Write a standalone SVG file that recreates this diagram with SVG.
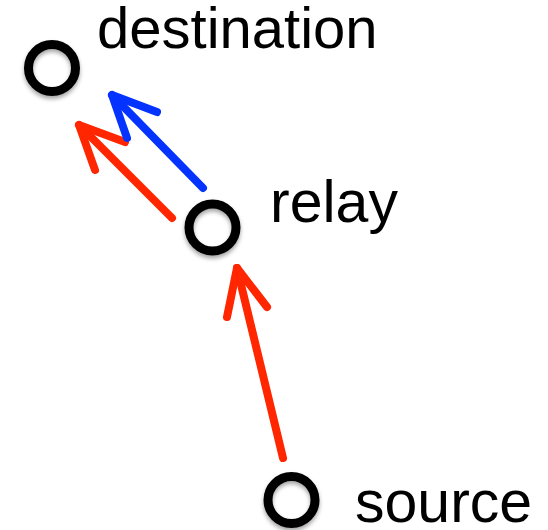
<svg xmlns="http://www.w3.org/2000/svg" width="548" height="530" viewBox="0 0 548 530">
  <defs>
    <filter id="soft-shadow" x="-40%" y="-40%" width="180%" height="180%">
      <feDropShadow dx="0" dy="3" stdDeviation="2" flood-color="#000" flood-opacity="0.35"/>
    </filter>
  </defs>
  <style>
    .node-ring { fill: none; stroke: #000; stroke-width: 9; filter: url(#soft-shadow); }
    .label { font-family: "Liberation Sans", Arial, Helvetica, sans-serif; font-size: 59px; fill: #000; }
    .link { fill: none; stroke-width: 8; stroke-linecap: round; stroke-linejoin: round; }
    .red { stroke: #FF2600; }
    .blue { stroke: #0433FF; }
  </style>
  <rect width="548" height="530" fill="#fff"/>

  <!-- connectors: shaft plus open chevron head at the tip -->
  <g id="connectors">
    <g id="source-to-relay" class="link red">
      <path d="M283,458 L237,268"/>
      <path d="M227,317 L237,268 L267,307"/>
    </g>
    <g id="relay-to-destination-red" class="link red">
      <path d="M172,218 L79,125"/>
      <path d="M95,170 L79,125 L125,142"/>
    </g>
    <g id="relay-to-destination-blue" class="link blue">
      <path d="M203,188 L112,95"/>
      <path d="M127,138 L112,95 L157,112"/>
    </g>
  </g>

  <g id="destination">
    <circle class="node-ring" cx="52" cy="68" r="23.5"/>
    <text class="label" x="97" y="48" style="font-size:58px">destination</text>
  </g>

  <g id="relay">
    <circle class="node-ring" cx="212.5" cy="227.5" r="23.5"/>
    <text class="label" x="270" y="222">relay</text>
  </g>

  <g id="source">
    <circle class="node-ring" cx="291.5" cy="500" r="23.5"/>
    <text class="label" x="355" y="522">source</text>
  </g>
</svg>
